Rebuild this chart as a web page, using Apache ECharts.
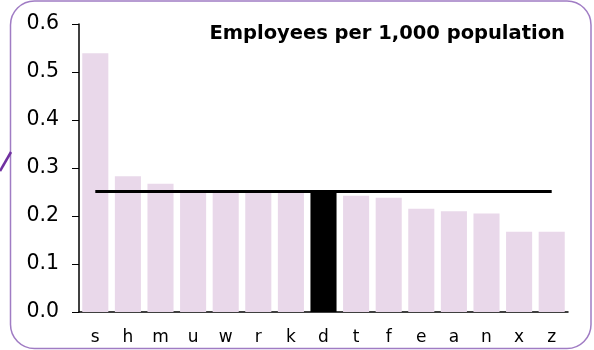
<!DOCTYPE html>
<html>
<head>
<meta charset="utf-8">
<script src="https://cdn.jsdelivr.net/npm/echarts@6/dist/echarts.min.js"></script>
<style>
  html, body { margin: 0; padding: 0; background: #fff; }
  #chart { width: 594px; height: 350px; }
</style>
</head>
<body>
<div id="chart"></div>
<script>
// Employees per 1,000 population by area
const categories = ['s', 'h', 'm', 'u', 'w', 'r', 'k', 'd', 't', 'f', 'e', 'a', 'n', 'x', 'z'];
const values = [0.539, 0.283, 0.267, 0.254, 0.254, 0.254, 0.254, 0.254, 0.242, 0.238, 0.215, 0.210, 0.205, 0.167, 0.167];
const highlighted = 'd';
const averageValue = 0.252;
const yTicks = [0.0, 0.1, 0.2, 0.3, 0.4, 0.5, 0.6];
const titleText = 'Employees per 1,000 population';

const FONT = 'DejaVu Sans';
const chart = echarts.init(document.getElementById('chart'), null, { renderer: 'canvas' });

chart.setOption({
  animation: false,
  backgroundColor: '#ffffff',
  title: {
    text: titleText,
    right: 24,
    top: 19,
    textStyle: { fontFamily: FONT, fontSize: 19.5, fontWeight: 'bold', color: '#000' }
  },
  grid: { left: 79, right: 26, top: 24, bottom: 38, containLabel: false },
  xAxis: {
    type: 'category',
    data: categories,
    axisLine: { show: true, lineStyle: { color: '#000', width: 1.5 } },
    axisTick: { show: false },
    axisLabel: { color: '#000', fontFamily: FONT, fontSize: 17, margin: 17 }
  },
  yAxis: {
    type: 'value',
    min: yTicks[0],
    max: yTicks[yTicks.length - 1],
    interval: 0.1,
    splitLine: { show: false },
    axisLine: { show: true, lineStyle: { color: '#000', width: 1.5 } },
    axisTick: { show: true, inside: false, length: 7, lineStyle: { color: '#000', width: 1 } },
    axisLabel: {
      color: '#000', fontFamily: FONT, fontSize: 20.5, margin: 20,
      formatter: v => v.toFixed(1)
    }
  },
  series: [{
    type: 'bar',
    barCategoryGap: '20%',
    data: values.map((v, i) => ({
      value: v,
      itemStyle: { color: categories[i] === highlighted ? '#000000' : '#e9d8ea' }
    })),
    markLine: {
      silent: true,
      symbol: 'none',
      label: { show: false },
      lineStyle: { color: '#000', width: 3, type: 'solid' },
      data: [[
        { coord: [categories[0], averageValue] },
        { coord: [categories[categories.length - 1], averageValue] }
      ]]
    }
  }],
  graphic: [
    {
      type: 'rect',
      shape: { x: 10.5, y: 1, width: 580.5, height: 347.5, r: 24 },
      style: { fill: 'none', stroke: '#a07cc4', lineWidth: 1.5 },
      z: 100
    },
    {
      type: 'line',
      shape: { x1: 0, y1: 171, x2: 11, y2: 152 },
      style: { stroke: '#7030a0', lineWidth: 2.5 },
      z: 100
    }
  ]
});
</script>
</body>
</html>
